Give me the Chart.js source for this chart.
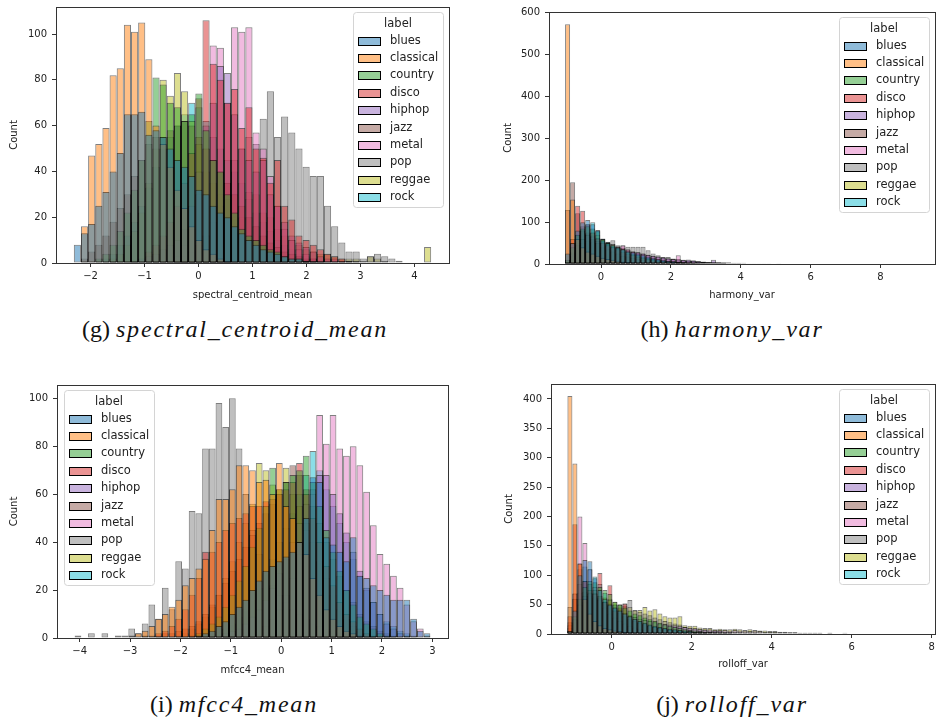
<!DOCTYPE html>
<html>
<head>
<meta charset="utf-8">
<script src="https://cdn.jsdelivr.net/npm/chart.js@4.4.1/dist/chart.umd.min.js"></script>
<style>
  html, body { margin: 0; padding: 0; background: #fff; overflow: hidden; }
  body { width: 936px; height: 720px; position: relative; }
  canvas { position: absolute; }
  .cap { position: absolute; width: 468px; height: 26px; line-height: 26px; text-align: center;
         font-family: "Liberation Serif", serif; font-size: 24px; color: #111; white-space: nowrap; }
  .cap i { letter-spacing: 1.8px; }
</style>
</head>
<body>
<canvas id="chartG" width="475" height="310" style="left:0px;top:0px"></canvas>
<canvas id="chartH" width="470" height="310" style="left:478px;top:0px"></canvas>
<canvas id="chartI" width="475" height="310" style="left:0px;top:372px"></canvas>
<canvas id="chartJ" width="470" height="310" style="left:478px;top:372px"></canvas>

<div class="cap" style="left:1px;top:316px">(g) <i>spectral_centroid_mean</i></div>
<div class="cap" style="left:498px;top:316px">(h) <i>harmony_var</i></div>
<div class="cap" style="left:0px;top:691px">(i) <i>mfcc4_mean</i></div>
<div class="cap" style="left:498px;top:691px">(j) <i>rolloff_var</i></div>

<script>
// ---- categories ----
const genres = ['blues', 'classical', 'country', 'disco', 'hiphop', 'jazz', 'metal', 'pop', 'reggae', 'rock'];
const genreColors = ['#1f77b4', '#ff7f0e', '#2ca02c', '#d62728', '#9467bd', '#8c564b', '#e377c2', '#7f7f7f', '#bcbd22', '#17becf'];

// ---- (g) spectral_centroid_mean : 50 bins ----
const gBinStart = -2.31, gBinWidth = 0.1324, gBinCount = 50;
const gBlues     = [8,13,17,25,31,40,48,65,65,66,56,58,55,50,45,42,38,32,30,25,22,20,16,13,10,8,6,5,4,3,2,2,1,1];
const gClassical = [0,16,47,52,59,82,85,104,101,105,89,60,52,42,32,24,16,10,6,4,2,1];
const gCountry   = [0,0,0,2,4,8,14,22,32,45,62,81,78,70,68,62,65,74,58,45,40,30,22,15,12,10,8,6,5,3,2,2,1];
const gDisco     = [0,0,0,0,0,0,0,0,0,0,5,8,12,18,25,35,48,72,106,87,80,70,76,59,68,50,46,35,45,25,19,12,10,8,6,4,3,2,1];
const gHiphop    = [0,0,0,0,0,0,0,0,1,2,3,4,6,8,10,15,25,40,60,70,86,83,65,50,45,40,45,30,25,18,12,9,7,5,3,2,2,1];
const gJazz      = [0,2,5,8,12,18,24,30,38,45,52,55,55,58,60,62,60,55,50,45,40,35,30,25,20,16,12,9,7,5,4,3,2,2,1,1,1,1,1,1];
const gMetal     = [0,0,0,0,0,0,0,0,0,0,0,0,0,0,3,8,15,30,50,95,94,70,103,101,103,57,50,38,25,15,10,6,4,2,1];
const gPop       = [0,0,0,0,0,0,0,0,0,0,0,0,0,0,0,3,5,8,12,18,25,35,45,50,55,52,63,75,55,64,57,50,42,38,38,25,16,9,5,5,2,3,4,3,2,1];
const gReggae    = [0,0,0,0,0,2,4,8,14,22,35,50,80,73,83,75,62,52,40,35,30,28,20,20,31,30,22,20,15,12,10,8,6,5,4,4,3,2,2,2,1,3,2,1,0,0,0,0,0,7];
const gRock      = [0,0,0,0,2,4,8,12,18,25,33,42,50,55,60,65,70,68,62,55,50,45,40,35,28,22,18,14,10,8,6,4,3,2,1];
const gXTicks = [-2, -1, 0, 1, 2, 3, 4];
const gYTicks = [0, 20, 40, 60, 80, 100];

// ---- (h) harmony_var : 70 bins ----
const hBinStart = -1.03, hBinWidth = 0.144, hBinCount = 70;
const hBlues     = [25,50,80,100,105,95,80,58,50,45,40,35,30,28,25,22,18,15,12,10,8,7,6,5,4,3,3,2,2,1,1,1,1,0,1];
const hClassical = [573,154,60,40,30,25,20,15,12,10,8,6,5,4,3,3,2,2,1,1,1];
const hCountry   = [10,40,70,85,90,85,78,60,50,45,40,35,30,25,22,18,15,12,10,8,7,6,5,4,3,3,2,2,1,1,1];
const hDisco     = [5,60,139,127,95,75,62,52,45,40,35,30,25,22,18,15,12,10,8,7,6,5,4,3,3,2,2,1,1,1,0,1];
const hHiphop    = [5,25,45,60,70,68,60,55,48,42,38,35,32,30,28,25,22,20,18,16,14,12,11,10,11,9,7,6,5,10,
                    5,4,4,3,3,3,2,2,2,2,2,1,2,1,1,1,1,1,0,1,1,1,0,1,1,0,1,0,1,1,0,1,0,0,1,0,1,0,0,1];
const hJazz      = [129,195,121,90,70,60,50,40,35,30,25,20,18,15,12,10,9,8,6,5,4,4,3,3,2,2,1,1,1,0,1,0,0,1];
const hMetal     = [10,50,70,80,75,65,55,50,45,40,42,45,35,30,28,25,22,20,18,15,13,13,21,9,8,7,6,5,4,4,3,3,2,2,2,1,1,1,1,0,1,0,1,0,0,1];
const hPop       = [5,30,45,50,55,52,50,50,52,57,45,44,41,41,41,41,33,25,21,17,17,12,12,10,9,8,6,5,4,4,3,3,2,2,2,1,1,1,0,1,1,0,1];
const hReggae    = [5,20,40,60,72,75,70,60,52,48,42,38,34,30,27,24,21,18,16,14,12,10,9,8,7,6,5,5,4,4,3,3,2,2,2,1,1,1,1,1,0,1];
const hRock      = [0,20,50,80,95,100,81,61,53,48,42,38,32,28,24,20,17,14,11,9,7,6,5,4,3,3,2,2,1,1];
const hXTicks = [0, 2, 4, 6, 8];
const hYTicks = [0, 100, 200, 300, 400, 500, 600];

// ---- (i) mfcc4_mean : 53 bins ----
const iBinStart = -4.10, iBinWidth = 0.1332, iBinCount = 53;
const iBlues     = [0,0,0,0,0,0,0,0,0,0,0,0,0,0,0,0,0,0,1,2,3,5,7,10,13,16,20,24,28,30,32,34,36,40,50,67,65,42,39,36,32,42,26,25,22,20,18,16,16,16,8,3,2];
const iClassical = [0,0,0,0,0,0,0,0,1,2,3,5,8,10,13,16,22,25,29,33,45,58,58,62,72,72,70,65,66,60,73,55,50,40,35,25,18,12,8,5,3,2,1];
const iCountry   = [0,0,0,0,0,0,0,0,0,0,0,0,0,0,0,0,0,1,2,4,6,9,13,18,24,30,38,46,55,71,62,65,68,70,76,65,55,45,36,28,20,14,9,6,4,2,1];
const iDisco     = [0,0,0,0,0,0,0,0,0,0,0,0,2,3,5,8,12,18,25,36,36,40,45,48,50,52,55,55,57,58,60,62,65,73,60,50,40,30,22,15,10,7,4,2,1];
const iHiphop    = [0,0,0,0,0,0,0,0,0,0,0,0,0,0,0,0,0,0,0,0,0,0,2,3,4,6,9,12,16,21,27,33,40,48,56,62,68,68,60,52,44,36,28,21,15,10,6,4,2,1];
const iJazz      = [0,0,0,0,0,0,0,0,0,0,1,1,1,2,2,3,4,5,7,10,14,18,23,28,33,38,43,48,52,56,60,65,72,68,62,55,48,40,33,26,20,15,10,7,5,3,2,1];
const iMetal     = [0,0,0,0,0,0,0,0,0,0,0,0,0,0,0,0,0,0,0,0,0,0,0,0,0,0,0,0,5,8,12,18,25,35,45,60,93,81,93,79,76,80,72,61,47,35,31,26,21,14,7,4,1];
const iPop       = [1,0,2,0,2,0,1,1,4,2,6,14,8,21,12,32,29,53,52,79,79,98,88,100,79,60,45,35,28,22,18,15,12,10,8,6,5,4,3,2,2,1];
const iReggae    = [0,0,0,0,0,0,0,0,0,0,0,0,0,0,0,1,2,4,6,9,13,18,25,32,40,48,56,73,70,64,62,71,60,55,48,40,32,25,18,12,8,5,3,2,1];
const iRock      = [0,0,0,0,0,0,0,0,0,0,0,0,0,0,0,0,0,0,0,0,1,2,4,6,9,12,16,21,27,33,40,46,52,60,68,78,70,62,55,48,40,33,26,20,15,10,7,5,3,2,1];
const iXTicks = [-4, -3, -2, -1, 0, 1, 2, 3];
const iYTicks = [0, 20, 40, 60, 80, 100];

// ---- (j) rolloff_var : 70 bins ----
const jBinStart = -1.11, jBinWidth = 0.125, jBinCount = 70;
const jBlues     = [5,40,100,126,124,95,75,60,50,45,40,35,30,26,22,19,16,14,12,10,9,8,7,6,5,4,4,3,3,2,2,2,1,1,1,0,1];
const jClassical = [405,290,120,60,35,22,15,10,8,6,5,4,3,2,2,1,1,1];
const jCountry   = [5,30,60,80,90,88,80,75,68,55,50,45,40,35,32,28,25,22,19,16,14,12,10,8,7,6,5,4,4,3,3,2,2,1,1,1];
const jDisco     = [30,187,120,90,75,70,104,55,83,40,45,52,30,25,20,18,15,12,10,8,7,6,5,4,3,3,2,2,1,1,1,0,1];
const jHiphop    = [5,25,50,65,70,68,62,55,50,45,40,36,32,29,26,24,22,20,18,17,16,15,14,12,11,10,9,8,8,7,
                    7,7,6,7,6,6,5,6,5,4,4,4,3,3,3,3,2,2,2,2,2,1,2,1,1,1,1,1,1,1,0,1,1,0,1,1,0,1,0,1];
const jJazz      = [20,60,85,90,85,75,65,55,48,42,36,30,26,22,19,16,14,12,10,9,8,7,6,5,5,4,4,3,3,3,2,2,2,1,1,1,1,1,0,1];
const jMetal     = [15,69,200,155,110,80,60,45,35,28,22,18,14,11,9,7,6,5,4,3,3,2,2,1,1,1,0,1];
const jPop       = [46,60,70,72,68,62,58,55,52,50,50,52,58,40,38,35,32,28,25,22,20,18,16,12,10,9,8,7,6,5,5,4,4,3,3,2,2,2,1,1,1,1,0,1,1,0,1];
const jReggae    = [5,20,40,55,65,68,65,62,58,55,50,48,46,41,41,46,40,42,35,30,28,28,30,15,14,14,11,10,10,8,
                    9,8,8,9,8,7,8,7,6,6,5,5,4,4,3,3,2,2,2,2,2,1,2,1,1,2,1,1,1,1,1,0,1,1,0,1,1,0,1,1];
const jRock      = [10,69,110,115,110,98,85,70,60,50,42,36,30,25,20,17,14,12,10,8,7,6,5,4,3,3,2,2,1,1];
const jXTicks = [0, 2, 4, 6, 8];
const jYTicks = [0, 50, 100, 150, 200, 250, 300, 350, 400];

// ---- helpers ----
const TEXT = '#222';
const FRAME = '#333';
Chart.defaults.font.family = "'DejaVu Sans', sans-serif";

function hexToRgba(hex, alpha) {
    const r = parseInt(hex.slice(1, 3), 16);
    const g = parseInt(hex.slice(3, 5), 16);
    const b = parseInt(hex.slice(5, 7), 16);
    return `rgba(${r}, ${g}, ${b}, ${alpha})`;
}

function fmtTick(v) {
    return v < 0 ? '\u2212' + Math.abs(v) : String(v);
}

// full box frame like matplotlib spines
const spinePlugin = {
    id: 'spines',
    afterDatasetsDraw(chart) {
        const { ctx, chartArea: a } = chart;
        ctx.save();
        ctx.strokeStyle = FRAME;
        ctx.lineWidth = 1;
        ctx.strokeRect(a.left + 0.5, a.top + 0.5, a.right - a.left, a.bottom - a.top);
        ctx.restore();
    }
};

// legend box with title, drawn inside the plot area
const boxLegendPlugin = {
    id: 'boxLegend',
    afterDraw(chart, args, opts) {
        const { ctx, chartArea: a } = chart;
        const w = 90, h = 195;
        const x0 = Math.round(opts.side === 'left' ? a.left + 7 : a.right - 6 - w);
        const y0 = Math.round(a.top + 5);
        ctx.save();
        ctx.beginPath();
        if (ctx.roundRect) ctx.roundRect(x0 + 0.5, y0 + 0.5, w, h, 3);
        else ctx.rect(x0 + 0.5, y0 + 0.5, w, h);
        ctx.fillStyle = 'rgba(255,255,255,0.8)';
        ctx.fill();
        ctx.strokeStyle = '#d4d4d4';
        ctx.lineWidth = 1;
        ctx.stroke();

        ctx.font = "11.5px 'DejaVu Sans'";
        ctx.textBaseline = 'middle';
        ctx.fillStyle = TEXT;
        ctx.textAlign = 'center';
        ctx.fillText('label', x0 + w / 2, y0 + 12);
        ctx.textAlign = 'left';
        genres.forEach((g, i) => {
            const y = Math.round(y0 + 28.5 + i * 17.4);
            ctx.fillStyle = hexToRgba(genreColors[i], 0.5);
            ctx.fillRect(x0 + 5, y - 4, 22, 8);
            ctx.strokeStyle = '#000';
            ctx.strokeRect(x0 + 5.5, y - 3.5, 22, 8);
            ctx.fillStyle = TEXT;
            ctx.fillText(g, x0 + 37, y + 0.5);
        });
        ctx.restore();
    }
};

function makeHistogram(canvasId, cfg) {
    const el = document.getElementById(canvasId);
    const cv = cfg.canvas, area = cfg.area;
    const cBottom = cv.top + cv.height;

    const datasets = cfg.series.map((counts, s) => {
        const pts = [];
        for (let i = 0; i < cfg.binCount; i++) {
            pts.push({ x: cfg.binStart + cfg.binWidth * (i + 0.5), y: counts[i] || 0 });
        }
        return {
            label: genres[s],
            data: pts,
            backgroundColor: hexToRgba(genreColors[s], 0.5),
            borderColor: 'rgba(0, 0, 0, 0.5)',
            borderWidth: 1,
            borderSkipped: false,
            inflateAmount: 0,
            grouped: false,
            barPercentage: 1,
            categoryPercentage: 1
        };
    });

    return new Chart(el, {
        type: 'bar',
        data: { datasets: datasets },
        plugins: [spinePlugin, boxLegendPlugin],
        options: {
            responsive: false,
            maintainAspectRatio: false,
            animation: false,
            events: [],
            devicePixelRatio: 1,
            layout: {
                padding: {
                    left: 0,
                    top: area.top - cv.top,
                    right: cv.left + cv.width - area.right,
                    bottom: 0
                }
            },
            plugins: {
                legend: { display: false },
                tooltip: { enabled: false },
                boxLegend: { side: cfg.legendSide }
            },
            scales: {
                x: {
                    type: 'linear',
                    min: cfg.xMin,
                    max: cfg.xMax,
                    offset: false,
                    afterFit: s => {
                        s.height = cBottom - area.bottom;
                        s.paddingLeft = 0; s.paddingRight = 0; s.paddingTop = 0; s.paddingBottom = 0;
                    },
                    afterBuildTicks: s => { s.ticks = cfg.xTicks.map(v => ({ value: v })); },
                    ticks: {
                        autoSkip: false, maxRotation: 0, padding: 3,
                        color: TEXT, font: { size: 10 },
                        callback: v => fmtTick(v)
                    },
                    grid: { drawOnChartArea: false, drawTicks: true, tickLength: 4, color: FRAME, offset: false },
                    border: { display: false },
                    title: {
                        display: true, text: cfg.xTitle, color: TEXT, font: { size: 10 },
                        padding: { top: 0, bottom: cBottom - 6 - cfg.xTitleY }
                    }
                },
                y: {
                    min: 0,
                    max: cfg.yMax,
                    afterFit: s => {
                        s.width = area.left - cv.left;
                        s.paddingLeft = 0; s.paddingRight = 0; s.paddingTop = 0; s.paddingBottom = 0;
                    },
                    afterBuildTicks: s => { s.ticks = cfg.yTicks.map(v => ({ value: v })); },
                    ticks: {
                        autoSkip: false, padding: 5,
                        color: TEXT, font: { size: 10 },
                        callback: v => String(v)
                    },
                    grid: { drawOnChartArea: false, drawTicks: true, tickLength: 4, color: FRAME },
                    border: { display: false },
                    title: {
                        display: true, text: 'Count', color: TEXT, font: { size: 10 },
                        padding: { top: cfg.yTitleX - cv.left - 6, bottom: 0 }
                    }
                }
            }
        }
    });
}

makeHistogram('chartG', {
    series: [gBlues, gClassical, gCountry, gDisco, gHiphop, gJazz, gMetal, gPop, gReggae, gRock],
    binStart: gBinStart, binWidth: gBinWidth, binCount: gBinCount,
    xMin: -2.64, xMax: 4.64, yMax: 111.8,
    xTicks: gXTicks, yTicks: gYTicks, xTitle: 'spectral_centroid_mean',
    canvas: { left: 0, top: 0, width: 475, height: 310 },
    area: { left: 56, top: 7, right: 449, bottom: 263 },
    xTitleY: 295, yTitleX: 14, legendSide: 'right'
});

makeHistogram('chartH', {
    series: [hBlues, hClassical, hCountry, hDisco, hHiphop, hJazz, hMetal, hPop, hReggae, hRock],
    binStart: hBinStart, binWidth: hBinWidth, binCount: hBinCount,
    xMin: -1.49, xMax: 9.56, yMax: 602,
    xTicks: hXTicks, yTicks: hYTicks, xTitle: 'harmony_var',
    canvas: { left: 478, top: 0, width: 470, height: 310 },
    area: { left: 549, top: 12, right: 935, bottom: 264 },
    xTitleY: 295, yTitleX: 508, legendSide: 'right'
});

makeHistogram('chartI', {
    series: [iBlues, iClassical, iCountry, iDisco, iHiphop, iJazz, iMetal, iPop, iReggae, iRock],
    binStart: iBinStart, binWidth: iBinWidth, binCount: iBinCount,
    xMin: -4.45, xMax: 3.31, yMax: 105.5,
    xTicks: iXTicks, yTicks: iYTicks, xTitle: 'mfcc4_mean',
    canvas: { left: 0, top: 372, width: 475, height: 310 },
    area: { left: 57, top: 385, right: 448, bottom: 638 },
    xTitleY: 670, yTitleX: 14, legendSide: 'left'
});

makeHistogram('chartJ', {
    series: [jBlues, jClassical, jCountry, jDisco, jHiphop, jJazz, jMetal, jPop, jReggae, jRock],
    binStart: jBinStart, binWidth: jBinWidth, binCount: jBinCount,
    xMin: -1.52, xMax: 8.08, yMax: 425.5,
    xTicks: jXTicks, yTicks: jYTicks, xTitle: 'rolloff_var',
    canvas: { left: 478, top: 372, width: 470, height: 310 },
    area: { left: 551, top: 384, right: 935, bottom: 634 },
    xTitleY: 664, yTitleX: 509, legendSide: 'right'
});
</script>
</body>
</html>
